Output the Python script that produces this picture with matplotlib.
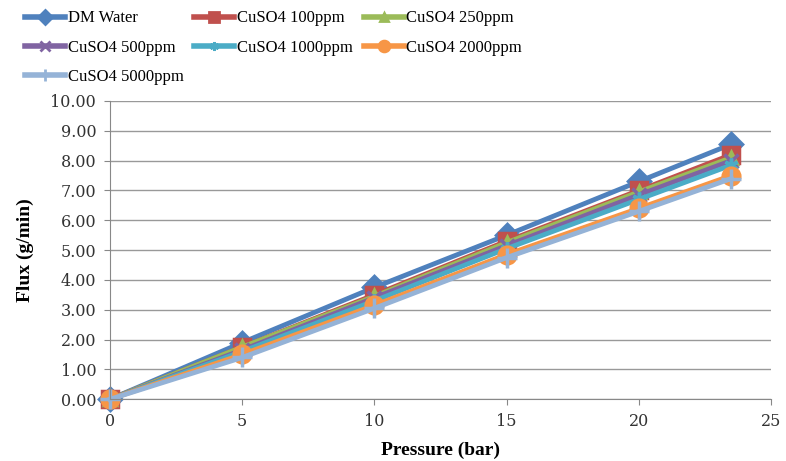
import matplotlib
matplotlib.use("Agg")
import matplotlib.pyplot as plt
from matplotlib.lines import Line2D

# Pressure (bar)
pressure = [0, 5, 10, 15, 20, 23.5]

# Flux (g/min) per solution
dm_water = [0.00, 1.90, 3.75, 5.50, 7.30, 8.55]
cuso4_100 = [0.00, 1.75, 3.50, 5.30, 7.00, 8.20]
cuso4_250 = [0.00, 1.75, 3.45, 5.25, 6.95, 8.10]
cuso4_500 = [0.00, 1.65, 3.40, 5.15, 6.85, 8.00]
cuso4_1000 = [0.00, 1.60, 3.30, 5.05, 6.70, 7.85]
cuso4_2000 = [0.00, 1.50, 3.15, 4.85, 6.40, 7.50]
cuso4_5000 = [0.00, 1.40, 3.05, 4.75, 6.30, 7.40]

labels = ["DM Water", "CuSO4 100ppm", "CuSO4 250ppm", "CuSO4 500ppm",
          "CuSO4 1000ppm", "CuSO4 2000ppm", "CuSO4 5000ppm"]
series = [dm_water, cuso4_100, cuso4_250, cuso4_500, cuso4_1000, cuso4_2000, cuso4_5000]
colors = ["#4F81BD", "#C0504D", "#9BBB59", "#8064A2", "#4BACC6", "#F79646", "#95B3D7"]
markers = ["D", "s", "^", "x", (6, 2, 0), "o", "+"]
msizes = [11, 12, 9, 10, 10, 12, 14]

plt.rcParams["font.family"] = ["DejaVu Serif"]

fig = plt.figure(figsize=(7.86, 4.61), dpi=100)
ax = fig.add_axes([0.14, 0.134, 0.841, 0.647])

for y, lab, c, m, ms in zip(series, labels, colors, markers, msizes):
    ax.plot(pressure, y, color=c, lw=3.5, marker=m, ms=ms, mew=2.5,
            mec=c, mfc=c, label=lab, clip_on=False)

ax.set_xlim(0, 25)
ax.set_ylim(0, 10)
ax.set_xticks(range(0, 26, 5))
ax.set_yticks(range(0, 11))
ax.set_yticklabels([f"{v:.2f}" for v in range(0, 11)])
ax.tick_params(labelsize=11.5, colors="#333333", length=4, color="#888888", pad=6)
ax.grid(axis="y", color="#999999", lw=1)
ax.set_axisbelow(True)
for s in ["top", "right"]:
    ax.spines[s].set_visible(False)
for s in ["left", "bottom"]:
    ax.spines[s].set_color("#888888")

ax.set_xlabel("Pressure (bar)", fontsize=14, fontweight="bold",
              family="Liberation Serif", labelpad=8)
ax.set_ylabel("Flux (g/min)", fontsize=14, fontweight="bold",
              family="Liberation Serif", labelpad=12)

# matplotlib fills legend columns first; reorder so rows read like the reference
order = [0, 3, 6, 1, 4, 2, 5]
handles = [Line2D([0], [0], color=colors[i], lw=4, marker=markers[i], ms=msizes[i] * 0.65,
                  mew=2, mec=colors[i], mfc=colors[i]) for i in order]
fig.legend(handles, [labels[i] for i in order], loc="upper left",
           bbox_to_anchor=(0.013, 1.01), ncol=3, frameon=False,
           handlelength=2.4, handletextpad=0.15, columnspacing=0.65, labelspacing=0.8,
           prop={"family": "Liberation Serif", "size": 12})

fig.savefig("out.png", dpi=100)
